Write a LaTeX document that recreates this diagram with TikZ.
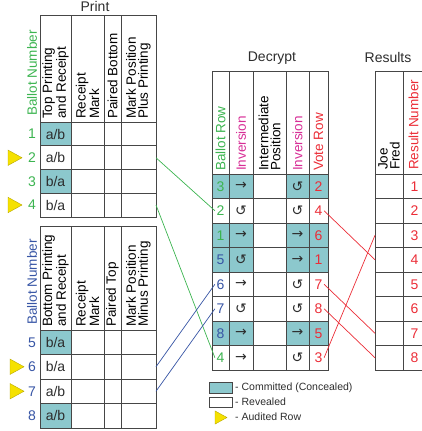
\documentclass[tikz,border=0pt]{standalone}
\usepackage{fontspec}
\setmainfont{Liberation Sans}
\newfontfamily\symfont{DejaVu Sans}

\definecolor{commit}{RGB}{140,200,205}
\definecolor{ballotgreen}{RGB}{60,180,80}
\definecolor{ballotblue}{RGB}{55,85,165}
\definecolor{invpink}{RGB}{215,45,150}
\definecolor{votered}{RGB}{235,45,55}
\definecolor{gridgray}{RGB}{70,70,70}
\definecolor{textgray}{RGB}{45,45,45}
\definecolor{audit}{RGB}{245,225,0}

\tikzset{
  grid/.style={draw=gridgray, line width=0.9pt},
  head/.style={rotate=90, anchor=west, align=left, inner sep=1pt,
    font=\fontsize{13.5}{12}\selectfont},
  num/.style={font=\fontsize{14}{14}\selectfont, inner sep=1.5pt},
  cellt/.style={font=\fontsize{14}{14}\selectfont, text=textgray},
  title/.style={font=\fontsize{14}{14}\selectfont, text=textgray},
  link/.style={line width=0.7pt},
  tri/.style={fill=audit, draw=audit!75!black, line width=0.4pt},
  legend/.style={anchor=west, inner sep=1pt, text=textgray,
    font=\fontsize{10.5}{10.5}\selectfont}
}

% audited row marker, centred at the given point
\newcommand\auditmark[3]{\draw[tri] (#1-#3*0.5,#2-#3*0.55) -- (#1+#3*0.5,#2) -- (#1-#3*0.5,#2+#3*0.55) -- cycle;}

\begin{document}
\begin{tikzpicture}[x=1pt, y=-1pt]
    \useasboundingbox (0,0) rectangle (421,431);

    % Shade committed cells
    \fill[commit] (40,122) rectangle (71,145.75);
    \fill[commit] (40,169.5) rectangle (71,193.25);
    \fill[commit] (40,330) rectangle (71,354.5);
    \fill[commit] (40,403.5) rectangle (71,428);
    \foreach \y in {174,223,247.5,321} {
        \fill[commit] (212,\y) rectangle (253,\y+24.5);
        \fill[commit] (286,\y) rectangle (328,\y+24.5);
    }

    % Draw grids for Print
    \foreach \top/\bot in {15/217, 226/428} {
        \draw[grid] (40,\top) rectangle (156,\bot);
        \foreach \x in {71,104,121} \draw[grid] (\x,\top) -- (\x,\bot);
    }
    \foreach \y in {122,145.75,169.5,193.25,330,354.5,379,403.5}
        \draw[grid] (40,\y) -- (156,\y);

    % Draw grids for Decrypt and Results
    \draw[grid] (212,71) rectangle (328,370);
    \foreach \x in {229,253,286,309} \draw[grid] (\x,71) -- (\x,370);
    \draw[grid] (440,71) -- (375,71) -- (375,370) -- (440,370);
    \draw[grid] (403,71) -- (403,370);
    \foreach \k in {0,...,7} {
        \draw[grid] (212,174+24.5*\k) -- (328,174+24.5*\k);
        \draw[grid] (375,174+24.5*\k) -- (440,174+24.5*\k);
    }

    % Titles
    \node[title] (print) at (95,6) {Print};
    \node[title] (decrypt) at (272,58) {Decrypt};
    \node[title] (results) at (388,57) {Results};

    % Headers for Print
    \node[head, text=ballotgreen] (hbn1) at (32,117) {Ballot Number};
    \node[head] (htop) at (55.5,120) {Top Printing\\and Receipt};
    \node[head] (hrm1) at (87.5,120) {Receipt\\Mark};
    \node[head] (hpb) at (112.5,120) {Paired Bottom};
    \node[head] (hplus) at (138.5,120) {Mark Position\\Plus Printing};

    \node[head, text=ballotblue] (hbn2) at (32,326) {Ballot Number};
    \node[head] (hbot) at (55.5,328) {Bottom Printing\\and Receipt};
    \node[head] (hrm2) at (87.5,328) {Receipt\\Mark};
    \node[head] (hpt) at (112.5,328) {Paired Top};
    \node[head] (hminus) at (138.5,328) {Mark Position\\Minus Printing};

    % Headers for Decrypt and Results
    \node[head, text=ballotgreen] (hbr) at (220.5,172) {Ballot Row};
    \node[head, text=invpink] (hinv1) at (241,172) {Inversion};
    \node[head] (hint) at (269.5,172) {Intermediate\\Position};
    \node[head, text=invpink] (hinv2) at (297.5,172) {Inversion};
    \node[head, text=votered] (hvr) at (318.5,172) {Vote Row};
    \node[head] (hjf) at (389,171) {Joe\\Fred};
    \node[head, text=votered] (hrn) at (413.5,171) {Result Number};

    % Ballots 1-4
    \node[num, text=ballotgreen] (n1) at (32,134) {1};
    \node[num, text=ballotgreen] (n2) at (32,157.75) {2};
    \node[num, text=ballotgreen] (n3) at (32,181.25) {3};
    \node[num, text=ballotgreen] (n4) at (32,205) {4};
    \node[cellt] (t1) at (55.5,134) {a/b};
    \node[cellt] (t2) at (55.5,157.75) {a/b};
    \node[cellt] (t3) at (55.5,181.25) {b/a};
    \node[cellt] (t4) at (55.5,205) {b/a};
    \coordinate (pr2) at (156,157.75);
    \coordinate (pr4) at (156,205);

    % Ballots 5-8
    \node[num, text=ballotblue] (n5) at (32,342.25) {5};
    \node[num, text=ballotblue] (n6) at (32,366.75) {6};
    \node[num, text=ballotblue] (n7) at (32,391.25) {7};
    \node[num, text=ballotblue] (n8) at (32,415.75) {8};
    \node[cellt] (t5) at (55.5,342.25) {b/a};
    \node[cellt] (t6) at (55.5,366.75) {b/a};
    \node[cellt] (t7) at (55.5,391.25) {a/b};
    \node[cellt] (t8) at (55.5,415.75) {a/b};
    \coordinate (pr6) at (156,366.75);
    \coordinate (pr7) at (156,391.25);

    % Audited rows
    \auditmark{15}{157.75}{14}
    \auditmark{15}{205}{14}
    \auditmark{17}{366.75}{14}
    \auditmark{17}{391.25}{14}

    % Decrypt rows
    \foreach \b/\bc/\i/\j/\v [count=\k] in {3/ballotgreen/→/↺/2, 2/ballotgreen/↺/↺/4,
        1/ballotgreen/→/→/6, 5/ballotblue/↺/→/1, 6/ballotblue/→/↺/7,
        7/ballotblue/↺/↺/8, 8/ballotblue/→/→/5, 4/ballotgreen/→/↺/3} {
        \node[num, text=\bc] (b\b) at (220.5,161.75+24.5*\k) {\b};
        \node[cellt] (ia\k) at (241,161.75+24.5*\k) {\symfont\i};
        \node[cellt] (ib\k) at (297.5,161.75+24.5*\k) {\symfont\j};
        \node[num, text=votered] (v\v) at (318.5,161.75+24.5*\k) {\v};
    }

    % Results rows
    \foreach \r in {1,...,8} {
        \node[num, text=votered] (r\r) at (414.5,161.75+24.5*\r) {\r};
        \coordinate (rl\r) at (375,161.75+24.5*\r);
    }

    % Draw links
    \draw[link, ballotgreen] (pr2) -- (b2.west);
    \draw[link, ballotgreen] (pr4) -- (b4.west);
    \draw[link, ballotblue] (pr6) -- (b6.west);
    \draw[link, ballotblue] (pr7) -- (b7.west);
    \draw[link, votered] (v4.east) -- (rl4);
    \draw[link, votered] (v7.east) -- (rl7);
    \draw[link, votered] (v8.east) -- (rl8);
    \draw[link, votered] (v3.east) -- (rl3);

    % Legend
    \draw[grid, line width=0.7pt, fill=commit] (209,382) rectangle (232,393);
    \node[legend] (lc) at (234,388) {- Committed (Concealed)};
    \draw[grid, line width=0.7pt] (209,397) rectangle (232,407);
    \node[legend] (lr) at (234,402) {- Revealed};
    \auditmark{221}{417.5}{12}
    \node[legend] (la) at (234,417) {- Audited Row};
\end{tikzpicture}
\end{document}
